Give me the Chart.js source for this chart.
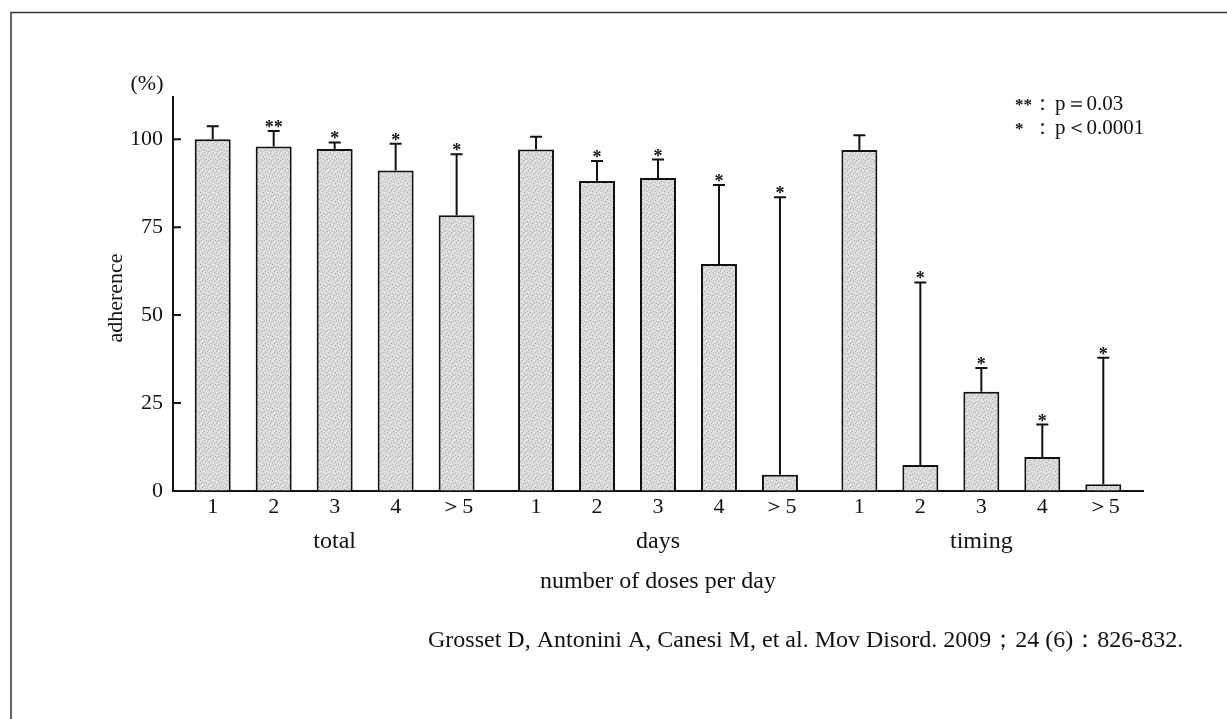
<!DOCTYPE html>
<html lang="en">
<head>
  <meta charset="UTF-8">
  <title>Adherence by number of doses per day</title>
  <script src="https://cdn.jsdelivr.net/npm/chart.js"></script>
  <style>
    html, body { margin: 0; padding: 0; background: #fff; }
    .chart-container { position: relative; width: 1227px; height: 719px; }
  </style>
</head>
<body>
<div class="chart-container">
  <canvas id="adherenceChart"></canvas>
</div>
<script>
  // Values (mean adherence % and upper error bar)
  const groups = ['total', 'days', 'timing'];
  const doses = ['1', '2', '3', '4', '＞5'];

  const totalMean = [100, 97.9, 97.2, 91.1, 78.4];
  const totalSd = [3.7, 4.4, 1.9, 7.6, 17.3];
  const daysMean = [97.1, 88.1, 89.0, 64.5, 4.6];
  const daysSd = [3.6, 5.7, 5.2, 22.5, 78.9];
  const timingMean = [96.9, 7.4, 28.2, 9.7, 1.9];
  const timingSd = [4.2, 51.9, 6.8, 9.2, 36.0];

  const totalSig = ['', '**', '*', '*', '*'];
  const daysSig = ['', '*', '*', '*', '*'];
  const timingSig = ['', '*', '*', '*', '*'];

  const yTicks = [0, 25, 50, 75, 100];
  const sigNotes = [['**', 'p＝0.03'], ['*', 'p＜0.0001']];
  const citation = 'Grosset D, Antonini A, Canesi M, et al. Mov Disord. 2009；24 (6)：826-832.';

  const means = [totalMean, daysMean, timingMean];
  const sds = [totalSd, daysSd, timingSd];
  const sigs = [totalSig, daysSig, timingSig];

  const serif = '"Liberation Serif", "Times New Roman", serif';
  const ink = '#111';

  const canvas = document.getElementById('adherenceChart');
  const ctx = canvas.getContext('2d');

  // light grey stipple like the printed bars
  function makeStipple() {
    const c = document.createElement('canvas');
    c.width = 9; c.height = 9;
    const g = c.getContext('2d');
    g.fillStyle = '#dadada';
    g.fillRect(0, 0, 9, 9);
    g.fillStyle = '#b0b0b0';
    [[0, 0], [4, 1], [7, 2], [2, 3], [5, 5], [8, 6], [1, 7], [6, 8], [3, 6]].forEach(([px, py]) => g.fillRect(px, py, 1, 1));
    g.fillStyle = '#f2f2f2';
    [[2, 0], [6, 3], [0, 5], [4, 7], [8, 8]].forEach(([px, py]) => g.fillRect(px, py, 1, 1));
    return ctx.createPattern(c, 'repeat');
  }
  const stipple = makeStipple();

  const datasets = doses.map((d, i) => ({
    label: d,
    data: means.map(m => m[i]),
    backgroundColor: stipple,
    borderColor: ink,
    borderWidth: 2,
    borderSkipped: 'bottom',
    barPercentage: 0.59,
    categoryPercentage: 0.943
  }));

  // error bars, stars, dose labels and the loose text of the figure
  const figureExtras = {
    id: 'figureExtras',
    afterDraw(chart) {
      const { ctx, chartArea, scales: { y } } = chart;
      ctx.save();
      ctx.fillStyle = ink;

      // frame of the scanned page
      ctx.lineWidth = 1.5;
      ctx.strokeStyle = '#333';
      ctx.beginPath();
      ctx.moveTo(11, 719);
      ctx.lineTo(11, 12.5);
      ctx.lineTo(1227, 12.5);
      ctx.stroke();
      ctx.strokeStyle = ink;

      // inward tick marks on the y axis
      ctx.lineWidth = 2;
      ctx.beginPath();
      yTicks.forEach(v => {
        const py = y.getPixelForValue(v);
        ctx.moveTo(chartArea.left, py);
        ctx.lineTo(chartArea.left + 8, py);
      });
      ctx.stroke();

      chart.data.datasets.forEach((ds, i) => {
        chart.getDatasetMeta(i).data.forEach((bar, g) => {
          const top = y.getPixelForValue(means[g][i] + sds[g][i]);
          ctx.lineWidth = 2;
          ctx.beginPath();
          ctx.moveTo(bar.x, bar.y);
          ctx.lineTo(bar.x, top);
          ctx.moveTo(bar.x - 6, top);
          ctx.lineTo(bar.x + 6, top);
          ctx.stroke();

          const sig = sigs[g][i];
          if (sig) {
            ctx.font = 'bold 18px ' + serif;
            ctx.textAlign = 'center';
            ctx.textBaseline = 'alphabetic';
            ctx.fillText(sig, bar.x, top + 2);
          }
          ctx.font = '22px ' + serif;
          ctx.textAlign = 'center';
          ctx.textBaseline = 'middle';
          ctx.fillText(doses[i], bar.x, chartArea.bottom + 16);
        });
      });

      // (%) unit and y title
      ctx.font = '22px ' + serif;
      ctx.textAlign = 'center';
      ctx.textBaseline = 'middle';
      ctx.fillText('(%)', 147, 84);
      ctx.save();
      ctx.translate(116, 298);
      ctx.rotate(-Math.PI / 2);
      ctx.fillText('adherence', 0, 0);
      ctx.restore();

      // x title
      ctx.font = '24px ' + serif;
      ctx.fillText('number of doses per day', 658, 582);

      // significance key
      sigNotes.forEach(([mark, txt], k) => {
        const base = 110 + k * 24;
        ctx.textBaseline = 'alphabetic';
        ctx.textAlign = 'left';
        ctx.font = 'bold 17px ' + serif;
        ctx.fillText(mark, 1015, base);
        ctx.font = '21px ' + serif;
        ctx.textAlign = 'center';
        ctx.fillText('：', 1042, base);
        ctx.textAlign = 'left';
        ctx.fillText(txt, 1055, base);
      });

      // citation
      ctx.font = '24px ' + serif;
      ctx.textAlign = 'left';
      ctx.textBaseline = 'middle';
      ctx.fillText(citation, 428, 641);
      ctx.restore();
    }
  };

  new Chart(ctx, {
    type: 'bar',
    data: { labels: groups, datasets: datasets },
    options: {
      responsive: true,
      maintainAspectRatio: false,
      animation: false,
      layout: { padding: { top: 97, right: 84, bottom: 128, left: 0 } },
      plugins: {
        legend: { display: false },
        tooltip: { enabled: false }
      },
      scales: {
        x: {
          grid: { drawOnChartArea: false, drawTicks: false },
          border: { color: ink, width: 2 },
          ticks: { color: ink, font: { family: serif, size: 24 }, padding: 36, maxRotation: 0 },
          afterFit: s => { s.height = 100; }
        },
        y: {
          min: 0,
          max: 112,
          grid: { drawOnChartArea: false, drawTicks: false },
          border: { color: ink, width: 2 },
          ticks: { color: ink, font: { family: serif, size: 22 }, padding: 10 },
          afterBuildTicks: s => { s.ticks = yTicks.map(v => ({ value: v })); },
          afterFit: s => { s.width = 173; }
        }
      }
    },
    plugins: [figureExtras]
  });
</script>
</body>
</html>
